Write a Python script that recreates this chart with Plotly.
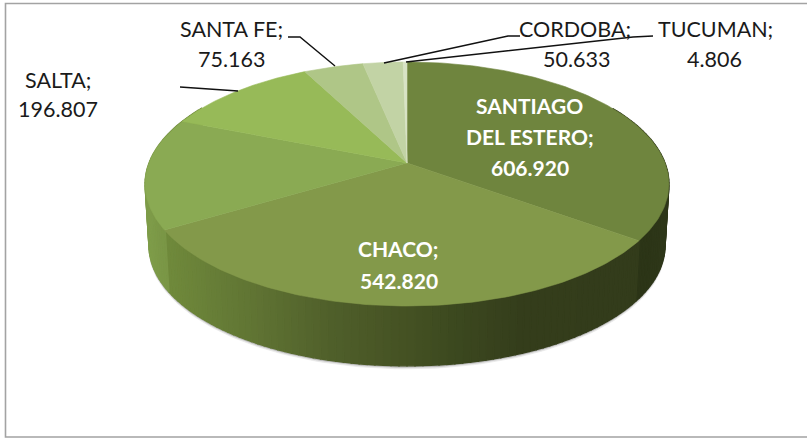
import numpy as np
import plotly.graph_objects as go

# ---- data ----
categories = ["SANTIAGO DEL ESTERO", "CHACO", "(sin rótulo)", "SALTA", "SANTA FE", "CORDOBA", "TUCUMAN"]
values = [606920, 542820, 255000, 196807, 75163, 50633, 4806]
value_labels = ["606.920", "542.820", "", "196.807", "75.163", "50.633", "4.806"]
top_colors = ["#6f853e", "#83994a", "#8aaa53", "#97ba58", "#afc687", "#c2d3a5", "#d8e3c5"]

# ---- projection of the tilted disc onto the page ----
AX, AY = 407, 163
A, B, C = 258, 118.4, 0.172
WALL_DY, WALL_S = 62, 0.985


def rim(t, dy=0.0, s=1.0):
    X, Y = np.sin(t), -np.cos(t)
    d = 1 - C * Y
    return AX + s * A * X / d, AY + dy + s * B * Y / d


def hex2rgb(h):
    return np.array([int(h[i:i + 2], 16) for i in (1, 3, 5)], float)


wall_x = [145, 164, 166, 250, 330, 400, 450, 520, 638, 641, 670]
wall_c = ["#7f9d4a", "#7a9646", "#708a3c", "#617534", "#50602b", "#465324",
          "#3d4a20", "#353e1c", "#333c1b", "#2c3517", "#2f381a"]
wall_rgb = np.array([hex2rgb(c) for c in wall_c])


def wall_color(x):
    r = [np.interp(x, wall_x, wall_rgb[:, i]) for i in range(3)]
    return "rgb(%d,%d,%d)" % tuple(r)


fig = go.Figure()


def poly(x, y, color, lw=0.6):
    fig.add_trace(go.Scatter(x=list(x), y=list(y), mode="lines", fill="toself", fillcolor=color,
                             line=dict(color=color, width=lw), hoverinfo="skip", showlegend=False))


# soft shadow under the wall
tt = np.radians(np.linspace(60, 300, 160))
for off, col in [(3, "#e6e6e6"), (1.5, "#b5b5b5")]:
    bx, by = rim(tt, WALL_DY + off, WALL_S)
    tx, ty = rim(tt[::-1], 0)
    poly(np.r_[bx, tx], np.r_[by, ty], col)

# wall, drawn as narrow quads
edges = np.radians(np.linspace(60, 300, 161))
for t0, t1 in zip(edges[:-1], edges[1:]):
    x0, y0 = rim(t0)
    x1, y1 = rim(t1)
    x2, y2 = rim(t1, WALL_DY, WALL_S)
    x3, y3 = rim(t0, WALL_DY, WALL_S)
    poly([x0, x1, x2, x3, x0], [y0, y1, y2, y3, y0], wall_color((x0 + x1) / 2), lw=1.4)

# top face, one wedge per value
fractions = np.array(values, float) / sum(values)
bounds = np.r_[0, np.cumsum(fractions)] * 2 * np.pi
for i, col in enumerate(top_colors):
    t = np.linspace(bounds[i], bounds[i + 1], 120)
    x, y = rim(t)
    poly(np.r_[AX, x, AX], np.r_[AY, y, AY], col)

# leader lines
leaders = [
    ([180, 238], [87, 91]),
    ([288, 300, 335], [37, 37, 66]),
    ([384, 508, 520], [63, 36, 36]),
    ([406, 633, 653], [62, 37, 36]),
]
for lx, ly in leaders:
    fig.add_trace(go.Scatter(x=lx, y=ly, mode="lines", line=dict(color="#111111", width=1.4),
                             hoverinfo="skip", showlegend=False))

# text
outside = [("SALTA;", 58, 80), ("196.807", 58, 109),
           ("SANTA FE;", 231, 29), ("75.163", 231, 59),
           ("CORDOBA;", 575, 29), ("50.633", 576, 59),
           ("TUCUMAN;", 715, 29), ("4.806", 714, 59)]
inside = [("SANTIAGO", 529, 105), ("DEL ESTERO;", 530, 136), ("606.920", 530, 167),
          ("CHACO;", 398, 248), ("542.820", 399, 280)]
for txt, x, y in outside:
    fig.add_annotation(x=x, y=y, text=txt, showarrow=False, xanchor="center", yanchor="middle",
                       font=dict(family="Lato", size=21.5, color="#1a1a1a"))
for txt, x, y in inside:
    fig.add_annotation(x=x, y=y, text="<b>%s</b>" % txt, showarrow=False, xanchor="center", yanchor="middle",
                       font=dict(family="Lato", size=21, color="#ffffff"))

fig.update_layout(
    width=807, height=438, margin=dict(l=0, r=0, t=0, b=0),
    paper_bgcolor="#ffffff", plot_bgcolor="#ffffff", showlegend=False,
    xaxis=dict(range=[0, 807], visible=False, fixedrange=True),
    yaxis=dict(range=[438, 0], visible=False, fixedrange=True),
    shapes=[dict(type="rect", xref="x", yref="y", x0=5.5, y0=3.5, x1=830, y1=437,
                 line=dict(color="#a3a3a3", width=1.6), fillcolor="rgba(0,0,0,0)", layer="below")],
)
fig.write_html("out.html", config={"displayModeBar": False},
               post_script="document.documentElement.style.overflow='hidden';document.body.style.margin='0';")
